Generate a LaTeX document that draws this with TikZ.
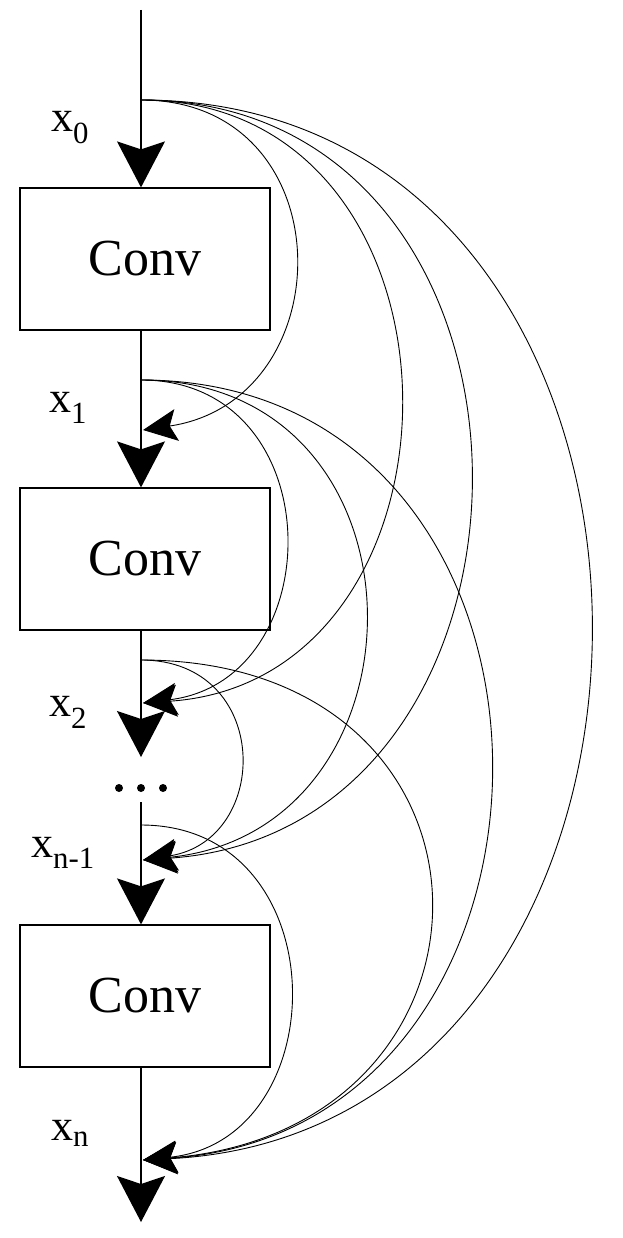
\documentclass[tikz,border=0pt]{standalone}
\usepackage{fontspec}
\setmainfont{Liberation Serif}
\usetikzlibrary{arrows.meta}
\begin{document}
\begin{tikzpicture}[x=1pt,y=-1pt,
  big/.style={-{Stealth[length=46pt,width=48pt,inset=8pt]},line width=1.2pt},
  skip/.style={-{Stealth[length=34pt,width=32pt,inset=7pt]},line width=0.9pt},
  box/.style={draw,line width=1.2pt,minimum width=250pt,minimum height=142pt,inner sep=0pt,font=\fontsize{52}{52}\selectfont},
  lab/.style={font=\fontsize{44}{44}\selectfont},
  dot/.style={fill,circle,inner sep=0pt,minimum size=8pt}]
\useasboundingbox (0,0) rectangle (622,1238);
\node[box] (c1) at (145,259) {Conv};
\node[box] (c2) at (145,559) {Conv};
\node[box] (c3) at (145,996) {Conv};
\coordinate (top) at (141,10);
\coordinate (t0) at (141,100);
\coordinate (t1) at (141,380);
\coordinate (t2) at (141,660);
\coordinate (t3) at (141,825);
\coordinate (e1) at (143,430);
\coordinate (e2) at (143,703);
\coordinate (e3) at (143,860);
\coordinate (e4) at (143,1160);
\coordinate (a2) at (141,757);
\coordinate (s3) at (141,802);
\coordinate (bot) at (141,1222);
\node[dot] (d1) at (119,788) {};
\node[dot] (d2) at (141,788) {};
\node[dot] (d3) at (163,788) {};
\draw[big] (top) -- (c1.north -| top);
\draw[big] (c1.south -| top) -- (c2.north -| top);
\draw[big] (c2.south -| top) -- (a2);
\draw[big] (s3) -- (c3.north -| top);
\draw[big] (c3.south -| top) -- (bot);
\node[lab] (l0) at (70,128) {x\textsubscript{0}};
\node[lab] (l1) at (68,408) {x\textsubscript{1}};
\node[lab] (l2) at (68,712) {x\textsubscript{2}};
\node[lab] (l3) at (63,853) {x\textsubscript{n-1}};
\node[lab] (l4) at (70,1133) {x\textsubscript{n}};
\draw[skip] (t0) .. controls (345,100) and (345,400) .. (e1);
\draw[skip] (t0) .. controls (485,100) and (485,680) .. (e2);
\draw[skip] (t0) .. controls (578,100) and (578,830) .. (e3);
\draw[skip] (t0) .. controls (738,100) and (738,1130) .. (e4);
\draw[skip] (t1) .. controls (332,380) and (332,680) .. (e2);
\draw[skip] (t1) .. controls (438,380) and (438,830) .. (e3);
\draw[skip] (t1) .. controls (605,380) and (605,1130) .. (e4);
\draw[skip] (t2) .. controls (272,660) and (272,840) .. (e3);
\draw[skip] (t2) .. controls (525,660) and (525,1130) .. (e4);
\draw[skip] (t3) .. controls (338,825) and (338,1140) .. (e4);
\end{tikzpicture}
\end{document}
